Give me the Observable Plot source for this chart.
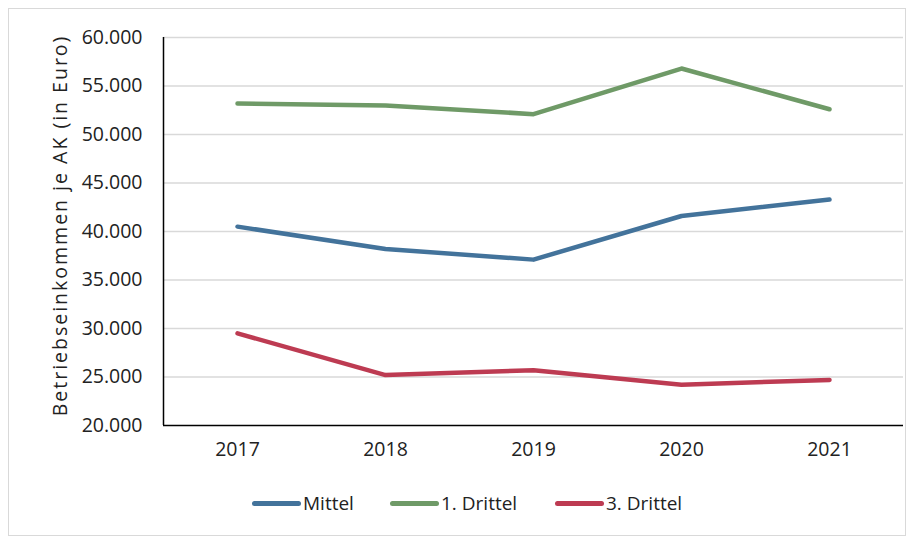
<!DOCTYPE html>
<html>
<head>
<meta charset="utf-8">
<script src="https://cdn.jsdelivr.net/npm/d3@7"></script>
<script src="https://cdn.jsdelivr.net/npm/@observablehq/plot@0.6"></script>
<style>
  html, body { margin: 0; padding: 0; background: #fff; }
  #wrap { position: relative; width: 915px; height: 540px; font-family: "Open Sans", sans-serif; }
  #border { position: absolute; left: 8px; top: 8px; width: 898px; height: 528px; border: 1px solid #d9d9d9; box-sizing: border-box; }
  #legend { position: absolute; top: 490px; left: 0; width: 915px; height: 26px; font-size: 19px; color: #222; }
  .item { position: absolute; top: 0; display: flex; align-items: center; height: 26px; }
  .swatch { width: 49px; height: 5px; border-radius: 3px; margin-right: 2px; }
  svg { position: absolute; left: 0; top: 0; }
</style>
</head>
<body>
<div id="wrap">
  <div id="border"></div>
  <div id="chart"></div>
  <div id="legend"></div>
</div>
<script>
const years = [2017, 2018, 2019, 2020, 2021];
const seriesNames = ["Mittel", "1. Drittel", "3. Drittel"];
const mittel = [40500, 38200, 37100, 41600, 43300];
const drittel1 = [53200, 53000, 52100, 56800, 52600];
const drittel3 = [29500, 25200, 25700, 24200, 24700];
const colors = ["#43739b", "#6f9a67", "#bd3b52"];
const yTicks = [20000, 25000, 30000, 35000, 40000, 45000, 50000, 55000, 60000];
const yLabel = "Betriebseinkommen je AK (in Euro)";

const values = [mittel, drittel1, drittel3];
const data = [];
seriesNames.forEach((s, i) => years.forEach((y, j) => data.push({series: s, year: y, value: values[i][j]})));

const de = d3.formatLocale({decimal: ",", thousands: ".", grouping: [3], currency: ["", " €"]});
const fmt = de.format(",d");

const chart = Plot.plot({
  width: 915,
  height: 540,
  marginLeft: 163,
  marginRight: 12,
  marginTop: 37,
  marginBottom: 115,
  style: {fontFamily: "Open Sans, sans-serif", fontSize: "19.5px", color: "#222", background: "transparent"},
  x: {domain: [2016.5, 2021.5], label: null},
  y: {domain: [20000, 60000], label: null},
  color: {domain: seriesNames, range: colors},
  marks: [
    Plot.ruleY(yTicks.slice(1), {stroke: "#d9d9d9", strokeWidth: 1.5}),
    Plot.lineY(data, {x: "year", y: "value", z: "series", stroke: "series", strokeWidth: 4.5, strokeLinecap: "round", strokeLinejoin: "round"}),
    Plot.ruleX([2016.5], {stroke: "#000", strokeWidth: 1.5}),
    Plot.ruleY([20000], {stroke: "#000", strokeWidth: 1.5}),
    Plot.axisY({ticks: yTicks, tickFormat: fmt, tickSize: 0, tickPadding: 21, label: null, fontSize: 19.5}),
    Plot.axisX({ticks: years, tickFormat: d => String(d), tickSize: 0, tickPadding: 17, label: null, fontSize: 19.5}),
    Plot.text([yLabel], {frameAnchor: "left", dx: -103, dy: -6, rotate: -90, fontSize: 19.5, fill: "#222", textAnchor: "middle"})
  ]
});
d3.select(chart).selectAll("text").filter(function() { return this.textContent === yLabel; })
  .style("letter-spacing", "2px");
document.getElementById("chart").appendChild(chart);

const legend = document.getElementById("legend");
const positions = [252, 390, 555];
seriesNames.forEach((s, i) => {
  const it = document.createElement("div");
  it.className = "item";
  it.style.left = positions[i] + "px";
  it.innerHTML = `<span class="swatch" style="background:${colors[i]}"></span><span>${s}</span>`;
  legend.appendChild(it);
});
</script>
</body>
</html>
